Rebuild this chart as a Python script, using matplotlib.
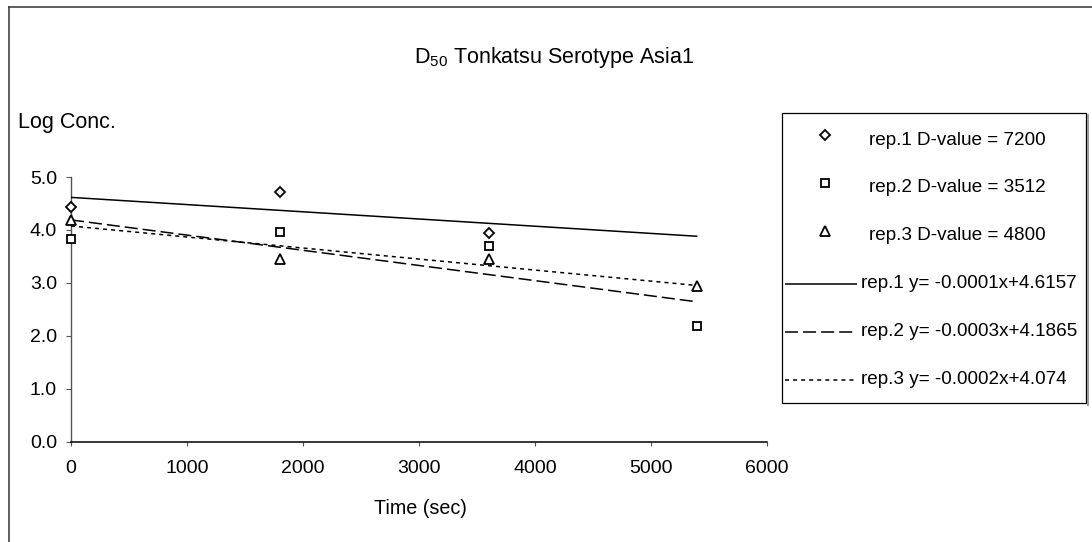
import matplotlib
matplotlib.use("Agg")
import matplotlib.pyplot as plt
from matplotlib.lines import Line2D
from matplotlib.patches import Rectangle
import numpy as np

plt.rcParams['font.family'] = ['Liberation Sans', 'DejaVu Sans']
plt.rcParams['mathtext.fontset'] = 'custom'
plt.rcParams['mathtext.rm'] = 'Liberation Sans'
plt.rcParams['mathtext.default'] = 'regular'
plt.rcParams['lines.scale_dashes'] = False

# Survival data: time (sec) vs log concentration for three replicates
time_rep1 = [0, 1800, 3600]
logc_rep1 = [4.44, 4.72, 3.95]
time_rep2 = [0, 1800, 3600, 5400]
logc_rep2 = [3.82, 3.96, 3.69, 2.19]
time_rep3 = [0, 1800, 3600, 5400]
logc_rep3 = [4.19, 3.46, 3.46, 2.94]

fit_range = [0, 5400]
x_ticks = [0, 1000, 2000, 3000, 4000, 5000, 6000]
y_ticks = [0.0, 1.0, 2.0, 3.0, 4.0, 5.0]

point_labels = ["rep.1 D-value = 7200", "rep.2 D-value = 3512", "rep.3 D-value = 4800"]
fit_labels = ["rep.1 y= -0.0001x+4.6157", "rep.2 y= -0.0003x+4.1865", "rep.3 y= -0.0002x+4.074"]

W, H = 1092, 542
fig = plt.figure(figsize=(W / 100, H / 100), dpi=100)


def fx(px):
    return px / W


def fy(py):
    return 1 - py / H


ax = fig.add_axes([fx(71), fy(441.7), fx(767) - fx(71), fy(177) - fy(441.7)])
ax.set_xlim(0, 6000)
ax.set_ylim(0, 5)
ax.patch.set_alpha(0)
for s in ('top', 'right'):
    ax.spines[s].set_visible(False)
ax.spines['left'].set_color('#555555')
ax.spines['bottom'].set_color('black')
ax.spines['left'].set_linewidth(1.0)
ax.spines['bottom'].set_linewidth(1.1)

ax.set_xticks(x_ticks)
ax.set_xticklabels([str(t) for t in x_ticks])
ax.set_yticks(y_ticks)
ax.set_yticklabels([f"{t:.1f}" for t in y_ticks])
ax.tick_params(axis='y', direction='out', length=3.6, width=0.8, color='#555555',
               pad=6.5, labelsize=14)
ax.tick_params(axis='x', direction='out', length=3.0, width=0.8, color='#555555',
               pad=10, labelsize=14)

marker_kw = dict(linestyle='none', markerfacecolor='white', markeredgecolor='black',
                 markeredgewidth=1.3, zorder=4)
styles = [
    dict(marker='D', markersize=5.3),
    dict(marker='s', markersize=6.4),
    dict(marker='^', markersize=7.3),
]
line_styles = [
    '-',
    (0, (9.4, 3.6)),
    (0, (2.9, 2.9)),
]

series = [(time_rep1, logc_rep1), (time_rep2, logc_rep2), (time_rep3, logc_rep3)]
for (t, v), st, ls in zip(series, styles, line_styles):
    ax.plot(t, v, clip_on=False, **st, **marker_kw)
    slope, intercept = np.polyfit(t, v, 1)
    xs = np.array(fit_range, dtype=float)
    ax.plot(xs, slope * xs + intercept, color='black', linewidth=1.1, linestyle=ls,
            zorder=3, solid_capstyle='butt', dash_capstyle='butt')

# Title and axis captions
fig.text(fx(554), fy(58), r"D$_{\mathregular{50}}$ Tonkatsu Serotype Asia1",
         ha='center', va='center', fontsize=15.5)
fig.text(fx(18), fy(122), "Log Conc.", ha='left', va='center', fontsize=15.5)
fig.text(fx(420), fy(508), "Time (sec)", ha='center', va='center', fontsize=14.2)

# Outer chart frame
fig.add_artist(Line2D([fx(8.5), fx(8.5)], [fy(7), fy(542)], color='#333333', lw=1.1))
fig.add_artist(Line2D([fx(8.5), fx(1092)], [fy(7), fy(7)], color='#333333', lw=1.1))

# Legend box with a light shadow on the right
fig.add_artist(Line2D([fx(1088), fx(1088)], [fy(115), fy(405)], color='#999999', lw=1.4))
fig.add_artist(Rectangle((fx(782), fy(403)), fx(1086) - fx(782), fy(113) - fy(403),
                         transform=fig.transFigure, facecolor='white',
                         edgecolor='black', lw=0.9))

row_y = [140, 188, 236, 284, 332, 380]
for i, (st, lab) in enumerate(zip(styles, point_labels)):
    y = row_y[i]
    fig.add_artist(Line2D([fx(825)], [fy(y - 5)], transform=fig.transFigure,
                          **st, **marker_kw))
    fig.text(fx(869), fy(y), lab, ha='left', va='center', fontsize=13.6)
for i, (ls, lab) in enumerate(zip(line_styles, fit_labels)):
    y = row_y[3 + i]
    fig.add_artist(Line2D([fx(785), fx(857)], [fy(y), fy(y)], color='black', lw=1.1,
                          linestyle=ls, dash_capstyle='butt', solid_capstyle='butt'))
    fig.text(fx(861), fy(y), lab, ha='left', va='center', fontsize=13.6)

fig.savefig("out.png", dpi=100, facecolor='white')
